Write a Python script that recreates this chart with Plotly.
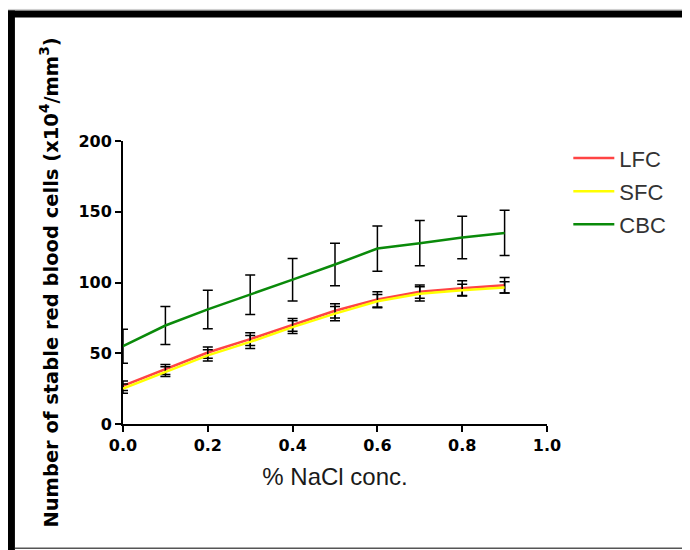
import plotly.graph_objects as go

# ---- data ----
nacl = [0.0, 0.1, 0.2, 0.3, 0.4, 0.5, 0.6, 0.7, 0.8, 0.9]

lfc = [27, 38.5, 50.5, 60, 70, 80, 88, 93.5, 96, 98]
lfc_err = [3.4, 3.5, 4, 4.5, 4.5, 5, 5.4, 4.7, 5.2, 5.5]

sfc = [25, 37, 48.5, 58, 68.5, 78, 86.8, 92, 94.6, 96.5]
sfc_err = [3.2, 3.4, 4, 4.6, 4.5, 5, 4.7, 5, 4.2, 4]

cbc = [55, 69.6, 81, 91.3, 102, 112.7, 124, 127.8, 131.8, 135]
cbc_err = [12, 13.5, 13.6, 14, 15, 15, 16, 16, 15, 16]

series_names = ["LFC", "SFC", "CBC"]
series_colors = ["#FF4444", "#FFFF00", "#0A8A0A"]

x_ticks = [0.0, 0.2, 0.4, 0.6, 0.8, 1.0]
x_ticktext = ["0.0", "0.2", "0.4", "0.6", "0.8", "1.0"]
y_ticks = [0, 50, 100, 150, 200]

# ---- layout geometry (figure pixels; page adds an 8px body margin) ----
OFF = 8
W, H = 690, 550
L, R_EDGE, T, B_EDGE = 123 - OFF, 546.7 - OFF, 140.7 - OFF, 424 - OFF


def xp(page_px):
    return (page_px - OFF - L) / (R_EDGE - L)


def yp(page_py):
    return (B_EDGE - (page_py - OFF)) / (B_EDGE - T)


fig = go.Figure()
for name, color, vals, errs in zip(series_names, series_colors,
                                   [lfc, sfc, cbc], [lfc_err, sfc_err, cbc_err]):
    fig.add_trace(go.Scatter(
        x=nacl, y=vals, name=name, mode="lines",
        line=dict(color=color, width=2.5),
        error_y=dict(type="data", array=errs, visible=True,
                     color="black", thickness=1.5, width=5),
        cliponaxis=False, legendgroup=name,
    ))

axis_font = dict(family="DejaVu Sans", size=16, color="black", weight="bold")

fig.update_layout(
    width=W, height=H,
    margin=dict(l=L, r=W - R_EDGE, t=T, b=H - B_EDGE, autoexpand=False),
    paper_bgcolor="white", plot_bgcolor="white",
    showlegend=True,
    legend=dict(x=xp(568), y=yp(137), xanchor="left", yanchor="top",
                font=dict(family="Liberation Sans", size=22, color="#333333"),
                tracegroupgap=1.5, itemwidth=41, bgcolor="rgba(0,0,0,0)"),
    xaxis=dict(range=[0, 1.0], tickvals=x_ticks, ticktext=x_ticktext,
               showgrid=False, zeroline=False, showline=True,
               linecolor="black", linewidth=2, ticks="outside",
               ticklen=6, tickwidth=2, tickcolor="black",
               tickfont=axis_font, automargin=False,
               title=dict(text="% NaCl conc.", standoff=14,
                          font=dict(family="Liberation Sans", size=24,
                                    color="#1a1a1a"))),
    yaxis=dict(range=[0, 200], tickvals=y_ticks,
               showgrid=False, zeroline=False, showline=True,
               linecolor="black", linewidth=2, ticks="outside",
               ticklen=6, tickwidth=2, tickcolor="black",
               tickfont=axis_font, automargin=False,
               title=dict(text="Number of stable red blood cells (x10<sup>4</sup>/mm<sup>3</sup>)",
                          standoff=15,
                          font=dict(family="DejaVu Sans", size=19.5,
                                    color="black", weight="bold"))),
)

# picture frame (thick black border top & left, thin grey bottom)
fig.add_shape(type="rect", xref="paper", yref="paper",
              x0=xp(8), x1=xp(710), y0=yp(17), y1=yp(10),
              fillcolor="black", line=dict(width=0), layer="above")
fig.add_shape(type="rect", xref="paper", yref="paper",
              x0=xp(8), x1=xp(15), y0=yp(570), y1=yp(10),
              fillcolor="black", line=dict(width=0), layer="above")
fig.add_shape(type="line", xref="paper", yref="paper",
              x0=xp(15), x1=xp(710), y0=yp(548.5), y1=yp(548.5),
              line=dict(color="#555555", width=1.5), layer="above")
fig.add_shape(type="line", xref="paper", yref="paper",
              x0=xp(8), x1=xp(710), y0=yp(9), y1=yp(9),
              line=dict(color="#cccccc", width=1), layer="above")

fig.write_html("out.html")
